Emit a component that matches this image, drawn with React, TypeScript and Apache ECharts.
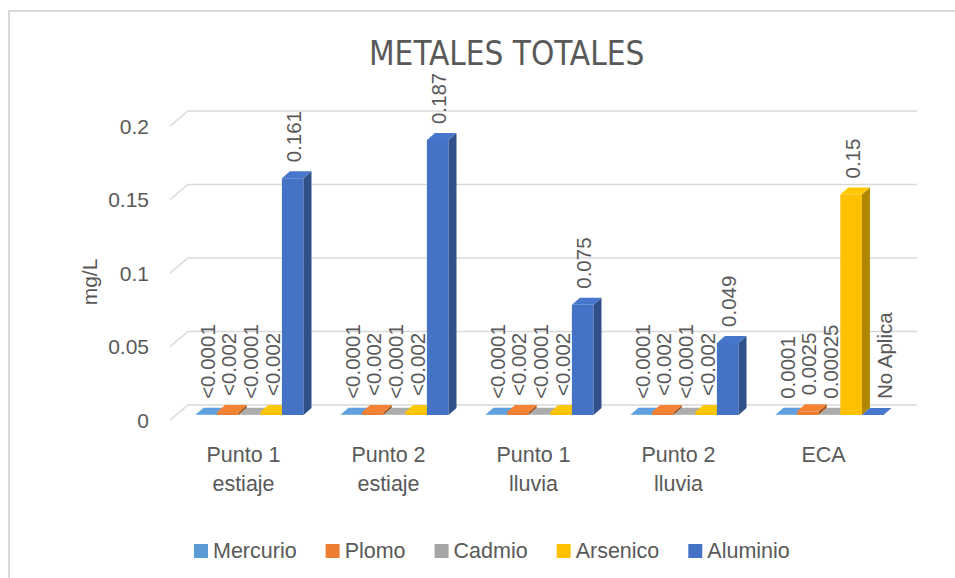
import React, { useEffect, useRef } from "react";
import * as echarts from "echarts";

const categories = ["Punto 1\nestiaje", "Punto 2\nestiaje", "Punto 1\nlluvia", "Punto 2\nlluvia", "ECA"];
const seriesNames = ["Mercurio", "Plomo", "Cadmio", "Arsenico", "Aluminio"];
const seriesColors = ["#5B9BD5", "#ED7D31", "#A5A5A5", "#FFC000", "#4472C4"];

const mercurio = [0.0001, 0.0001, 0.0001, 0.0001, 0.0001];
const plomo = [0.002, 0.002, 0.002, 0.002, 0.0025];
const cadmio = [0.0001, 0.0001, 0.0001, 0.0001, 0.00025];
const arsenico = [0.002, 0.002, 0.002, 0.002, 0.15];
const aluminio = [0.161, 0.187, 0.075, 0.049, 0];

const mercurioLabels = ["<0.0001", "<0.0001", "<0.0001", "<0.0001", "0.0001"];
const plomoLabels = ["<0.002", "<0.002", "<0.002", "<0.002", "0.0025"];
const cadmioLabels = ["<0.0001", "<0.0001", "<0.0001", "<0.0001", "0.00025"];
const arsenicoLabels = ["<0.002", "<0.002", "<0.002", "<0.002", "0.15"];
const aluminioLabels = ["0.161", "0.187", "0.075", "0.049", "No Aplica"];

const yTicks = [0, 0.05, 0.1, 0.15, 0.2];

const allValues = [mercurio, plomo, cadmio, arsenico, aluminio];
const allLabels = [mercurioLabels, plomoLabels, cadmioLabels, arsenicoLabels, aluminioLabels];

const TEXT = "#595959";
const GRID = "#d9d9d9";
const FONT = '"Liberation Sans", Arial, sans-serif';

function shade(hex: string, f: number) {
  const n = parseInt(hex.slice(1), 16);
  const r = Math.min(255, Math.round(((n >> 16) & 255) * f));
  const g = Math.min(255, Math.round(((n >> 8) & 255) * f));
  const b = Math.min(255, Math.round((n & 255) * f));
  return `rgb(${r},${g},${b})`;
}

// 3D geometry
const WALL_DX = 18;
const WALL_DY = 15;
const PLANE_DX = 6;
const PLANE_DY = 5;
const DEPTH_DX = 8;
const DEPTH_DY = 7;
const GROUP_RATIO = 0.745;

export default function App() {
  const ref = useRef<HTMLDivElement>(null);
  useEffect(() => {
    document.body.style.margin = "0";
    const chart = echarts.init(ref.current!, null, { renderer: "svg" });

    const gridSeries: any = {
      type: "custom",
      name: "__grid",
      silent: true,
      z: 1,
      data: yTicks.map((v) => [0, v]),
      encode: { x: 0, y: 1 },
      renderItem: (params: any, api: any) => {
        const cs = params.coordSys;
        const y = api.coord([0, api.value(1)])[1];
        return {
          type: "polyline",
          shape: {
            points: [
              [cs.x - 1, y],
              [cs.x - 1 + WALL_DX, y - WALL_DY],
              [cs.x + cs.width + WALL_DX + 3, y - WALL_DY],
            ],
          },
          style: { stroke: GRID, lineWidth: 1.5, fill: "none" },
        };
      },
    };

    const barSeries = seriesNames.map((name, k) => ({
      type: "custom",
      name,
      z: 3 + k,
      itemStyle: { color: seriesColors[k] },
      data: allValues[k].map((v, i) => [i, v]),
      encode: { x: 0, y: 1 },
      renderItem: (params: any, api: any) => {
        const cat = api.value(0);
        const v = api.value(1);
        const base = api.coord([cat, 0]);
        const top = api.coord([cat, v]);
        const band = api.size([1, 0])[0];
        const groupW = band * GROUP_RATIO;
        const bw = groupW / 5;
        const x0 = base[0] - groupW / 2 + k * bw + PLANE_DX;
        const yb = base[1] - PLANE_DY;
        const yt = top[1] - PLANE_DY;
        const h = Math.max(0, yb - yt);
        const c = seriesColors[k];
        const label = allLabels[k][params.dataIndex];
        const labelShift = v === 0 ? 12 : 1;
        return {
          type: "group",
          children: [
            {
              type: "rect",
              shape: { x: x0, y: yt, width: bw, height: h },
              style: { fill: c },
            },
            {
              type: "polygon",
              shape: {
                points: [
                  [x0 + bw, yt],
                  [x0 + bw + DEPTH_DX, yt - DEPTH_DY],
                  [x0 + bw + DEPTH_DX, yb - DEPTH_DY],
                  [x0 + bw, yb],
                ],
              },
              style: { fill: shade(c, 0.7) },
            },
            {
              type: "polygon",
              shape: {
                points: [
                  [x0, yt],
                  [x0 + DEPTH_DX, yt - DEPTH_DY],
                  [x0 + bw + DEPTH_DX, yt - DEPTH_DY],
                  [x0 + bw, yt],
                ],
              },
              style: { fill: shade(c, 1.04) },
            },
            {
              type: "text",
              x: x0 + bw / 2 + labelShift,
              y: yt - DEPTH_DY - 9,
              rotation: Math.PI / 2,
              z2: 10,
              style: {
                text: label,
                align: "left",
                verticalAlign: "middle",
                fill: TEXT,
                font: `20.5px ${FONT}`,
              },
            },
          ],
        };
      },
    }));

    chart.setOption({
      animation: false,
      backgroundColor: "#ffffff",
      textStyle: { fontFamily: FONT },
      title: {
        text: "METALES TOTALES",
        left: 364,
        top: 32,
        textStyle: {
          fontFamily: '"Liberation Sans Narrow", "DejaVu Sans Condensed", sans-serif',
          fontSize: 33,
          fontWeight: "normal",
          color: TEXT,
        },
      },
      legend: {
        data: seriesNames,
        left: 189,
        top: 535,
        icon: "rect",
        itemWidth: 14,
        itemHeight: 14,
        itemGap: 29,
        selectedMode: false,
        textStyle: { color: TEXT, fontSize: 21.5, fontFamily: FONT },
      },
      grid: { left: 171, right: 59, top: 126, bottom: 158 },
      xAxis: {
        type: "category",
        data: categories,
        axisLine: { show: false },
        axisTick: { show: false },
        axisLabel: { color: TEXT, fontSize: 21.5, lineHeight: 29, margin: 20, interval: 0 },
      },
      yAxis: {
        type: "value",
        min: 0,
        max: 0.2,
        interval: 0.05,
        axisLine: { show: false },
        axisTick: { show: false },
        splitLine: { show: false },
        axisLabel: { color: TEXT, fontSize: 21, margin: 22 },
      },
      graphic: [
        {
          type: "rect",
          shape: { x: 9, y: 11, width: 1200, height: 1200 },
          style: { fill: "none", stroke: GRID, lineWidth: 2 },
          silent: true,
        },
        {
          type: "text",
          x: 89,
          y: 282,
          rotation: Math.PI / 2,
          style: {
            text: "mg/L",
            align: "center",
            verticalAlign: "middle",
            fill: TEXT,
            font: `21px ${FONT}`,
          },
        },
      ],
      series: [gridSeries, ...barSeries],
    });
    return () => chart.dispose();
  }, []);
  return <div ref={ref} style={{ width: 955, height: 578 }} />;
}
